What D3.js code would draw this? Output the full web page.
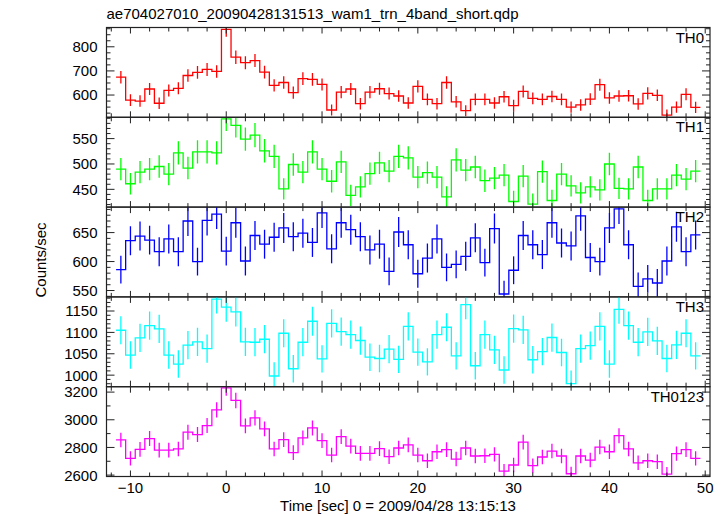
<!DOCTYPE html>
<html><head><meta charset="utf-8">
<script src="https://cdn.jsdelivr.net/npm/d3@7"></script>
<style>html,body{margin:0;padding:0;background:#fff;}svg{display:block;}</style>
</head><body>
<script>
// ---- data: 1-s bins centred on integer times -11 .. 49 ----
const binStart = -11;
const th0 = [674,579,575,625,566,619,628,681,694,706,698,872,757,734,743,695,640,652,610,668,665,644,538,612,625,564,612,626,606,596,567,636,582,564,652,572,535,582,582,567,593,556,615,586,582,594,582,550,559,583,643,588,596,597,563,607,599,517,550,603,549];
const th0Err = [26,24,24,25,24,25,25,26,26,27,26,30,28,27,27,26,25,26,25,26,26,25,23,25,25,24,25,25,25,24,24,25,24,24,26,24,23,24,24,24,24,24,25,24,24,24,24,23,24,24,25,24,24,24,24,25,24,23,23,25,23];
const th1 = [490,461,484,490,495,480,522,492,524,524,522,589,576,549,557,526,515,451,499,484,524,490,466,504,438,455,481,502,486,515,512,474,483,474,435,508,488,494,467,472,478,426,476,421,485,428,480,457,443,455,449,500,452,451,494,428,451,451,478,470,486];
const th1Err = [22,21,22,22,22,22,23,22,23,23,23,24,24,23,24,23,23,21,22,22,23,22,22,22,21,21,22,22,22,23,23,22,22,22,21,23,22,22,22,22,22,21,22,21,22,21,22,21,21,21,21,22,21,21,22,21,21,21,22,22,22];
const th2 = [586,636,644,637,617,639,617,670,600,671,682,618,667,601,645,630,642,658,643,649,633,684,622,667,655,643,620,630,583,651,629,579,606,639,590,595,609,641,598,657,544,585,645,629,612,667,632,627,679,607,600,658,691,629,557,570,563,601,660,617,646];
const th2Err = [24,25,25,25,25,25,25,26,24,26,26,25,26,25,25,25,25,26,25,25,25,26,25,26,26,25,25,25,24,26,25,24,25,25,24,24,25,25,24,26,23,24,25,25,25,26,25,25,26,25,24,26,26,25,24,24,24,25,26,25,25];
const th3 = [1105,1047,1087,1116,1108,1047,1026,1070,1078,1062,1178,1159,1148,1078,1077,1084,998,1098,1015,1077,1126,1038,1121,1102,1095,1081,1042,1039,1061,1037,1114,1054,1031,1095,1112,1045,1165,1022,1095,1059,1012,1109,1106,1036,1055,1088,1053,980,1062,1069,1114,1026,1154,1116,1077,1101,1080,1039,1071,1098,1045];
const th3Err = [33,32,33,33,33,32,32,33,33,33,34,34,34,33,33,33,32,33,32,33,34,32,33,33,33,33,32,32,33,32,33,32,32,33,33,32,34,32,33,33,32,33,33,32,32,33,32,31,33,33,33,32,34,33,33,33,33,32,33,33,32];
const th0123 = [2854,2721,2786,2864,2781,2781,2789,2910,2893,2958,3072,3231,3140,2956,3014,2934,2789,2856,2762,2869,2941,2849,2745,2878,2810,2757,2757,2791,2733,2796,2818,2745,2704,2769,2784,2716,2796,2738,2740,2750,2629,2673,2839,2668,2731,2774,2738,2610,2738,2709,2803,2769,2885,2789,2689,2704,2697,2607,2755,2784,2721];
const th0123Err = [53,52,53,54,53,53,53,54,54,54,55,57,56,54,55,54,53,53,53,54,54,53,52,54,53,53,53,53,52,53,53,52,52,53,53,52,53,52,52,52,51,52,53,52,52,53,52,51,52,52,53,53,54,53,52,52,52,51,52,53,52];

const panelNames = ["TH0","TH1","TH2","TH3","TH0123"];
const panelColors = ["#ff0000","#00ff00","#0000ff","#00ffff","#ff00ff"];
const panelDomains = [[507.7,880],[415,592],[539,694],[973,1183],[2590,3239]];
const panelMajor = [[600,700,800],[450,500,550],[550,600,650],[1000,1050,1100,1150],[2600,2800,3000,3200]];
const panelMinorStep = [25,10,10,10,100];
const xTickLabels = [-10,0,10,20,30,40,50];
const titleText = "ae704027010_20090428131513_wam1_trn_4band_short.qdp";
const xLabel = "Time [sec] 0 = 2009/04/28 13:15:13";
const yLabel = "Counts/sec";

const series = [th0, th1, th2, th3, th0123];
const errors = [th0Err, th1Err, th2Err, th3Err, th0123Err];

// ---- layout ----
const W = 728, H = 516;
const plotL = 106.5, plotR = 710, plotT = 27.5, panelH = 89.8;
const fontFam = "'Liberation Sans', Arial, Helvetica, sans-serif";

const svg = d3.select("body").append("svg").attr("width", W).attr("height", H)
  .style("font-family", fontFam);

const x = d3.scaleLinear().domain([-12.5, 50.5]).range([plotL, plotR]);

svg.append("text").attr("x", plotL).attr("y", 19).attr("font-size", 15).attr("fill", "#000").text(titleText);

const defs = svg.append("defs");

series.forEach((vals, p) => {
  const y0 = plotT + p * panelH, y1 = y0 + panelH;
  const y = d3.scaleLinear().domain(panelDomains[p]).range([y1, y0]);
  const g = svg.append("g");
  const clipId = "clip" + p;
  defs.append("clipPath").attr("id", clipId).append("rect")
    .attr("x", plotL).attr("y", y0).attr("width", plotR - plotL).attr("height", panelH);

  const bins = vals.map((v, i) => ({t: binStart + i, v: v, e: errors[p][i]}));
  const pts = bins.map(b => [b.t - 0.5, b.v]);
  pts.push([bins[bins.length - 1].t + 0.5, bins[bins.length - 1].v]);

  const dg = g.append("g").attr("clip-path", `url(#${clipId})`);
  dg.append("path")
    .attr("d", d3.line().x(d => x(d[0])).y(d => y(d[1])).curve(d3.curveStepAfter)(pts))
    .attr("fill", "none").attr("stroke", panelColors[p]).attr("stroke-width", 1.3);
  dg.selectAll("line.err").data(bins).enter().append("line")
    .attr("x1", d => x(d.t)).attr("x2", d => x(d.t))
    .attr("y1", d => y(d.v - d.e)).attr("y2", d => y(d.v + d.e))
    .attr("stroke", panelColors[p]).attr("stroke-width", 1.3);

  // frame
  g.append("rect").attr("x", plotL).attr("y", y0).attr("width", plotR - plotL).attr("height", panelH)
    .attr("fill", "none").attr("stroke", "#222").attr("stroke-width", 1.2);

  // y ticks (major + minor) on left and right, inward
  const [d0, d1] = panelDomains[p];
  const ms = panelMinorStep[p];
  const minor = d3.range(Math.ceil(d0 / ms) * ms, d1, ms).filter(v => !panelMajor[p].includes(v));
  const tk = g.append("g").attr("stroke", "#222").attr("stroke-width", 1);
  minor.forEach(v => {
    tk.append("line").attr("x1", plotL).attr("x2", plotL + 4).attr("y1", y(v)).attr("y2", y(v));
    tk.append("line").attr("x1", plotR).attr("x2", plotR - 4).attr("y1", y(v)).attr("y2", y(v));
  });
  panelMajor[p].filter(v => v >= d0 && v <= d1).forEach(v => {
    tk.append("line").attr("x1", plotL).attr("x2", plotL + 8).attr("y1", y(v)).attr("y2", y(v));
    tk.append("line").attr("x1", plotR).attr("x2", plotR - 8).attr("y1", y(v)).attr("y2", y(v));
  });
  // x ticks top and bottom
  d3.range(-12, 51, 2).forEach(t => {
    const len = (t % 10 === 0) ? 6 : 4;
    tk.append("line").attr("x1", x(t)).attr("x2", x(t)).attr("y1", y0).attr("y2", y0 + len);
    tk.append("line").attr("x1", x(t)).attr("x2", x(t)).attr("y1", y1).attr("y2", y1 - len);
  });

  // y tick labels
  g.selectAll("text.yl").data(panelMajor[p]).enter().append("text")
    .attr("x", plotL - 9).attr("y", v => y(v)).attr("dy", "0.36em")
    .attr("text-anchor", "end").attr("font-size", 15).attr("fill", "#000").text(v => v);

  // panel name
  g.append("text").attr("x", plotR - 6).attr("y", y0 + 15).attr("text-anchor", "end")
    .attr("font-size", 15).attr("fill", "#000").text(panelNames[p]);
});

const plotB = plotT + 5 * panelH;
svg.selectAll("text.xl").data(xTickLabels).enter().append("text")
  .attr("x", d => x(d)).attr("y", plotB + 16.5).attr("text-anchor", "middle")
  .attr("font-size", 15).attr("fill", "#000").text(d => d < 0 ? "\u2212" + Math.abs(d) : d);

svg.append("text").attr("x", 398).attr("y", 511).attr("text-anchor", "middle")
  .attr("font-size", 15).attr("fill", "#000").text(xLabel);

svg.append("text").attr("transform", "translate(46,260) rotate(-90)").attr("text-anchor", "middle")
  .attr("font-size", 15).attr("fill", "#000").text(yLabel);
</script>
</body></html>
